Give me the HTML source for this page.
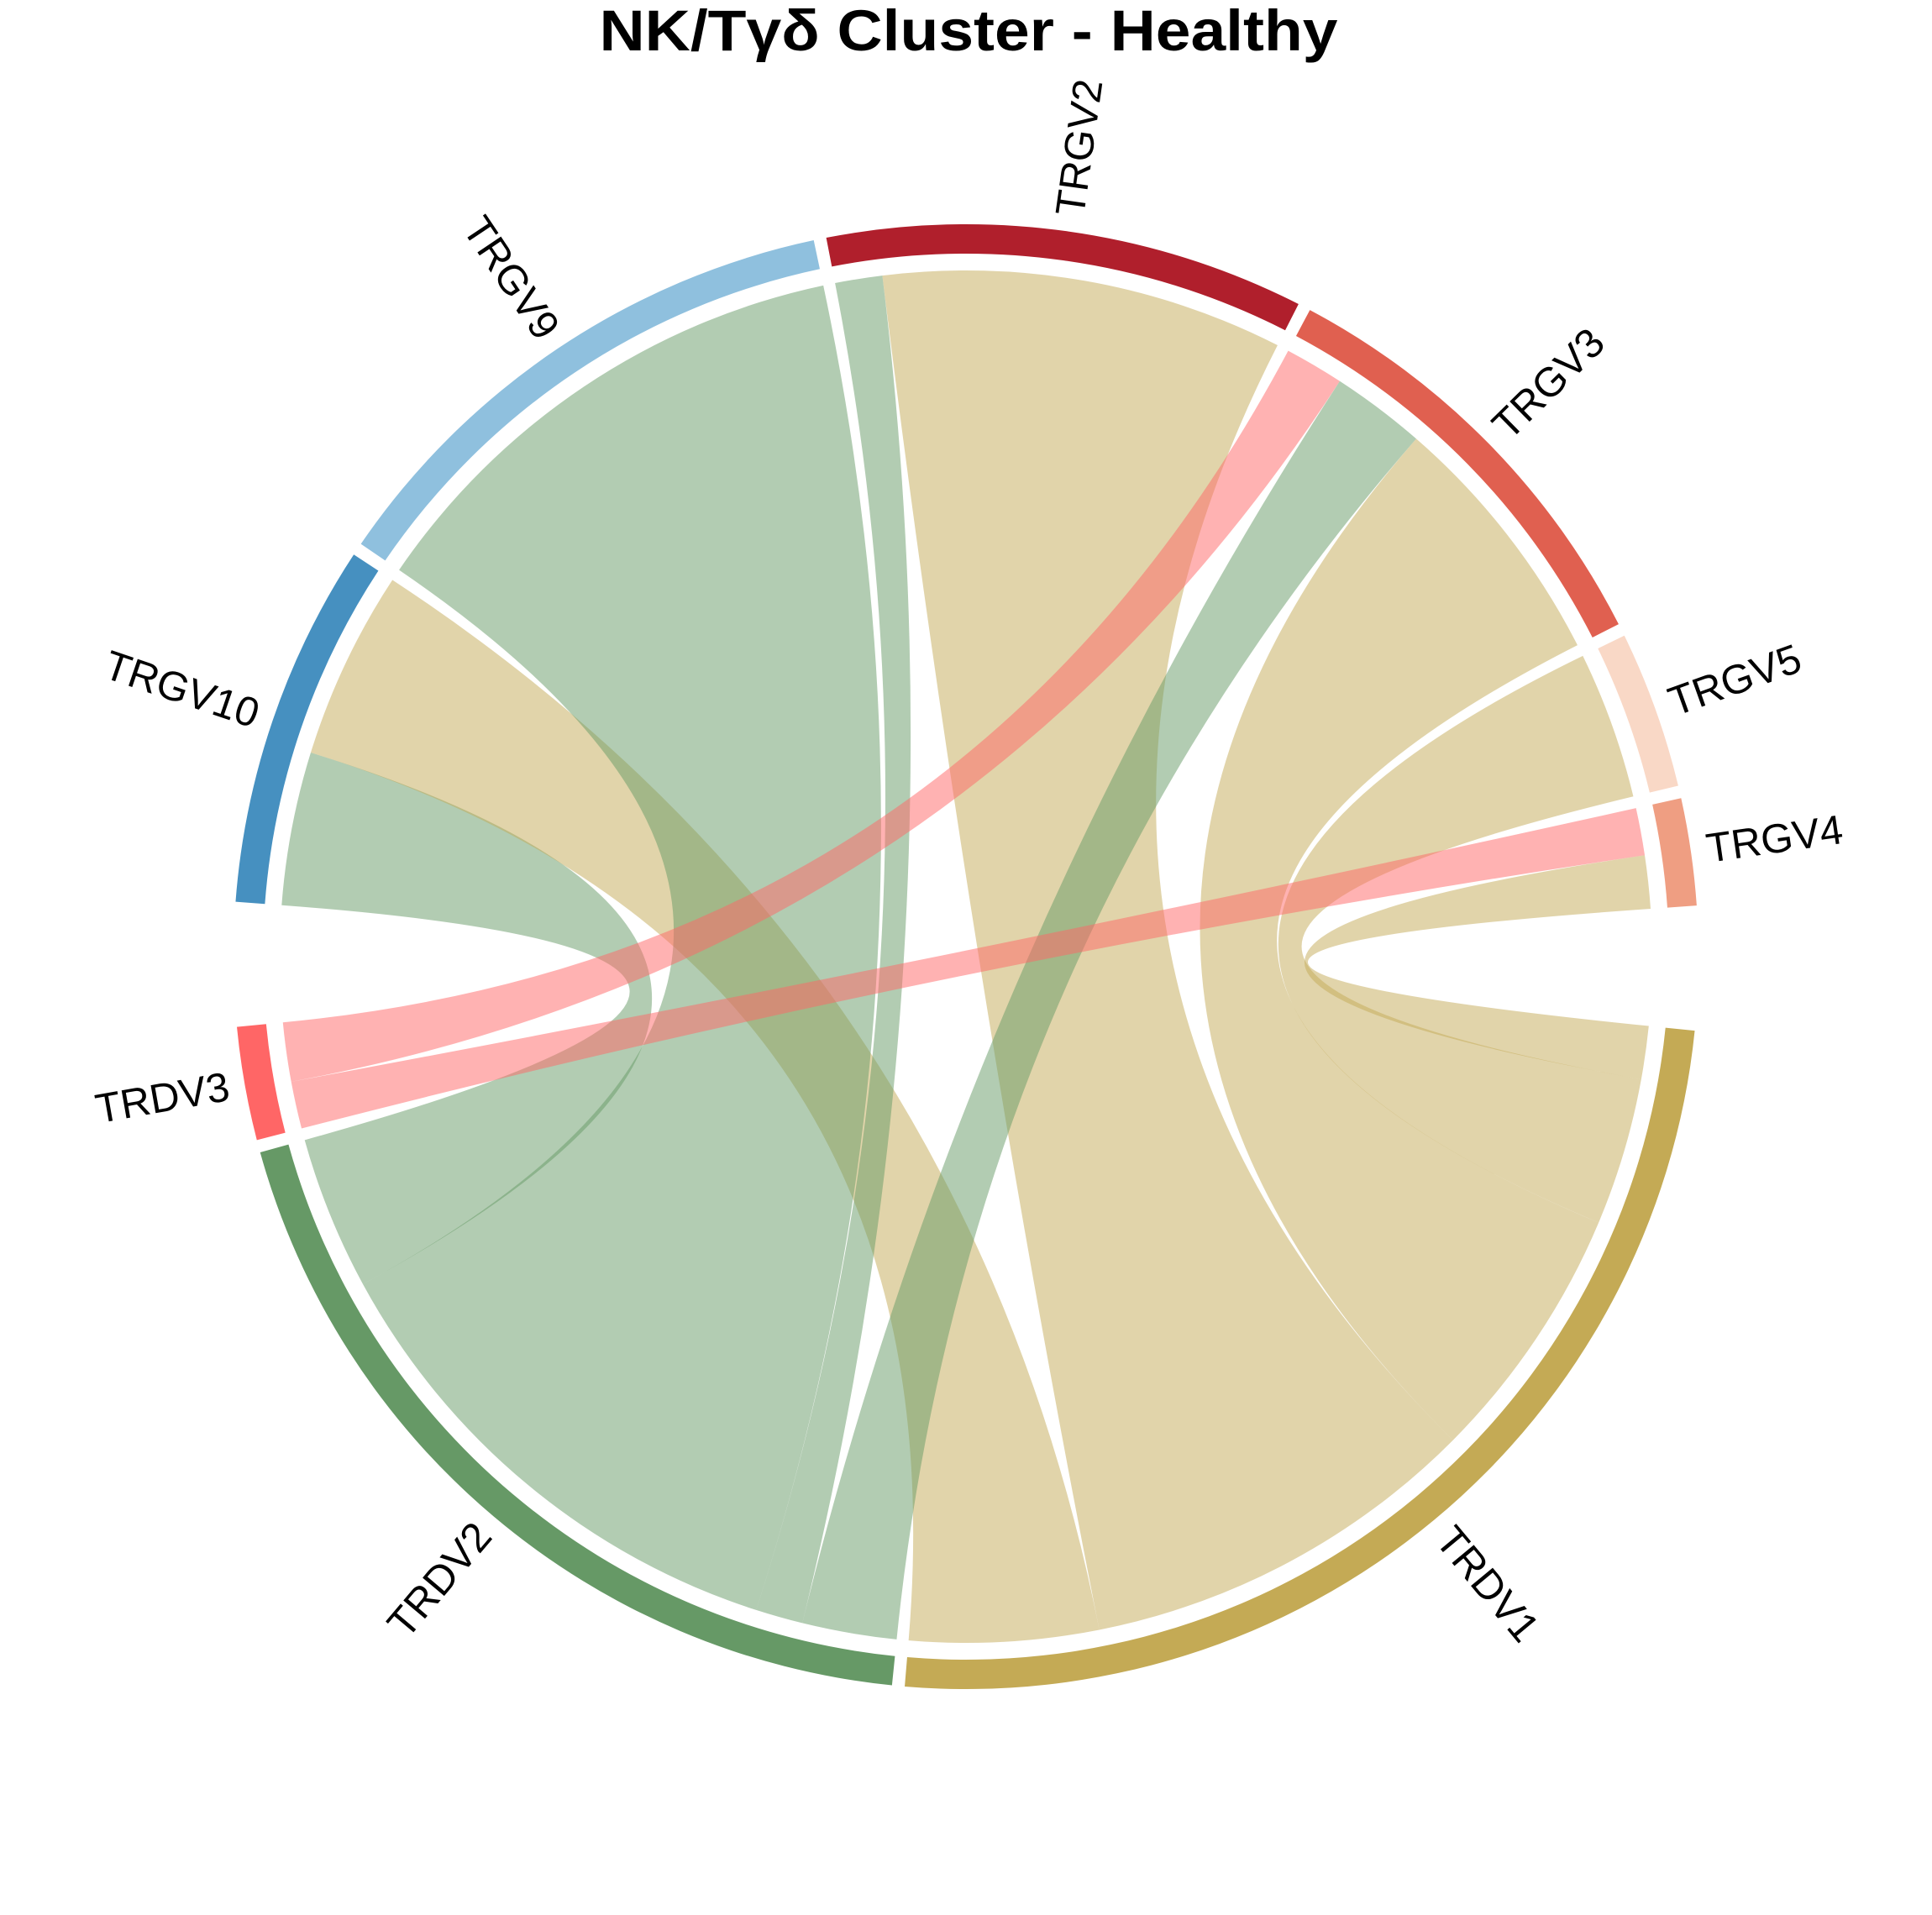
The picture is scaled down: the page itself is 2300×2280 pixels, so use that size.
<!DOCTYPE html>
<html><head><meta charset="utf-8"><style>
html,body{margin:0;padding:0;background:#fff;}
svg{display:block;}
</style></head><body>
<svg id="chart" width="2300" height="2280" viewBox="0 0 2300 2280" xmlns="http://www.w3.org/2000/svg">
<rect width="2300" height="2280" fill="#fff"/>
<text x="1153" y="60" text-anchor="middle" font-family="Liberation Sans, sans-serif" font-weight="bold" font-size="69" textLength="879" lengthAdjust="spacingAndGlyphs">NK/Tγδ Cluster - Healthy</text>
<g id="chords"></g>
<g id="ring"></g>
<g id="labels"></g>
</svg>
<script>
const sources = ["TRGV10","TRGV9","TRGV2","TRGV3","TRGV5","TRGV4"];
const targets = ["TRDV1","TRDV2","TRDV3"];
const toTRDV1 = [16, 0, 34, 22, 12.5, 4.5];
const toTRDV2 = [13, 43.7, 4, 8, 0, 0];
const toTRDV3 = [0, 0, 0, 5, 0, 4];
const sourceColors = ["#4690c0","#8fc0de","#b01f2c","#e06050","#f9d8c6","#ef9e82"];
const targetColors = ["#c4aa55","#669966","#ff6666"];

const flows = [toTRDV1, toTRDV2, toTRDV3];
const NS = "http://www.w3.org/2000/svg";
const cx = 1150, cy = 1139, rOut = 872, rIn = 837, rCh = 817, rLab = 891;
const startAngle = 354.2, smallGap = 1;
const srcTot = sources.map((s,i)=>flows.reduce((a,f)=>a+f[i],0));
const tgtTot = flows.map(f=>f.reduce((a,b)=>a+b,0));
const total = srcTot.reduce((a,b)=>a+b,0)+tgtTot.reduce((a,b)=>a+b,0);
const bigGap = (360 - total - 7*smallGap)/2;
function P(r,a){const t=a*Math.PI/180;return [cx+r*Math.cos(t), cy-r*Math.sin(t)];}
const sectors = [];
let a = startAngle;
targets.forEach((n,i)=>{sectors.push({name:n,start:a,end:a-tgtTot[i],color:targetColors[i],type:'t',idx:i});a-=tgtTot[i]+(i<2?smallGap:bigGap);});
sources.forEach((n,i)=>{sectors.push({name:n,start:a,end:a-srcTot[i],color:sourceColors[i],type:'s',idx:i});a-=srcTot[i]+smallGap;});
const sec = {}; sectors.forEach(s=>sec[s.type+s.idx]=s);
const srcPos = {};
sources.forEach((n,i)=>{let p=sec['s'+i].start;[2,1,0].forEach(t=>{const v=flows[t][i];if(v>0){srcPos[i+'_'+t]=[p,p-v];}p-=v;});});
const tgtPos = {};
targets.forEach((n,t)=>{let p=sec['t'+t].start;[5,4,3,2,1,0].forEach(i=>{const v=flows[t][i];if(v>0){tgtPos[i+'_'+t]=[p,p-v];}p-=v;});});
const gC = document.getElementById('chords');
function f(p){return p[0].toFixed(2)+' '+p[1].toFixed(2);}
function arc(r,a1,a2){const large=(a1-a2)>180?1:0;return 'A'+r+' '+r+' 0 '+large+' 1 '+f(P(r,a2));}
sources.forEach((n,i)=>{[2,1,0].forEach(t=>{const k=i+'_'+t;if(!srcPos[k])return;
 const [s1,s2]=srcPos[k],[t1,t2]=tgtPos[k];
 const d='M'+f(P(rCh,s1))+arc(rCh,s1,s2)+'Q'+cx+' '+cy+' '+f(P(rCh,t1))+arc(rCh,t1,t2)+'Q'+cx+' '+cy+' '+f(P(rCh,s1))+'Z';
 const el=document.createElementNS(NS,'path');
 el.setAttribute('d',d);el.setAttribute('fill',targetColors[t]);el.setAttribute('fill-opacity','0.5');
 
 
 gC.appendChild(el);});});
const gR=document.getElementById('ring'), gL=document.getElementById('labels');
sectors.forEach(s=>{
 const d='M'+f(P(rOut,s.start))+arc(rOut,s.start,s.end)+'L'+f(P(rIn,s.end))+'A'+rIn+' '+rIn+' 0 '+((s.start-s.end)>180?1:0)+' 0 '+f(P(rIn,s.start))+'Z';
 const el=document.createElementNS(NS,'path');
 el.setAttribute('d',d);el.setAttribute('fill',s.color);
 
 
 gR.appendChild(el);
 const m=(s.start+s.end)/2, p=P(rLab,m), right=Math.cos(m*Math.PI/180)>0;
 const tx=document.createElementNS(NS,'text');
 tx.setAttribute('x',p[0]);tx.setAttribute('y',p[1]);
 tx.setAttribute('font-family','Liberation Sans, sans-serif');tx.setAttribute('font-size','49');
 tx.setAttribute('dominant-baseline','central');
 tx.setAttribute('text-anchor',right?'start':'end');
 tx.setAttribute('transform','rotate('+(right?-m:180-m)+' '+p[0]+' '+p[1]+')');
 tx.textContent=s.name;
 
 
 gL.appendChild(tx);
});
</script>
</body></html>
